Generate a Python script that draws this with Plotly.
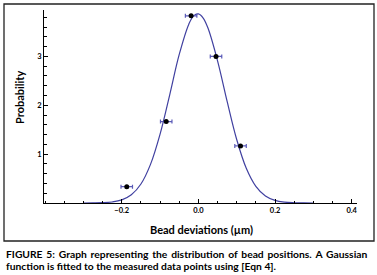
import plotly.graph_objects as go

# ---- data ----
bead_dev = [-0.187, -0.084, -0.019, 0.046, 0.110]
probability = [0.334, 1.666, 3.83, 3.00, 1.168]
dev_error = [0.015, 0.015, 0.015, 0.015, 0.015]

curve_x = [-0.300, -0.275, -0.250, -0.225, -0.200, -0.175, -0.150, -0.125, -0.100,
           -0.075, -0.050, -0.025, -0.0125, 0.000, 0.0125, 0.025, 0.050, 0.075,
           0.100, 0.125, 0.150, 0.175, 0.200, 0.225, 0.250, 0.275, 0.300]
curve_y = [0.0003, 0.0015, 0.006, 0.021, 0.063, 0.167, 0.388, 0.79, 1.41,
           2.21, 3.04, 3.66, 3.83, 3.87, 3.785, 3.58, 2.91, 2.08,
           1.30, 0.711, 0.342, 0.144, 0.053, 0.017, 0.005, 0.001, 0.0003]

x_tickvals = [-0.2, 0.0, 0.2, 0.4]
y_tickvals = [1, 2, 3]

x_title = "Bead deviations (µm)"
y_title = "Probability"
caption_1_words = ["FIGURE", "5:", "Graph", "representing", "the", "distribution", "of",
                   "bead", "positions.", "A", "Gaussian"]
caption_2 = "function is fitted to the measured data points using [Eqn 4]."

# ---- layout geometry (pixels) ----
W, H = 377, 275
L, R, T, B = 44, 357, 10, 203  # plot area edges in px


def px_x(p):
    return (p - L) / (R - L)


def px_y(p):
    return (B - p) / (B - T)


FONT = "Lato"
curve_color = "#4040a0"
err_color = "#5b5bb8"
CAP_SIZE = 10.3

# justified first caption line: widen word gaps slightly
caption_1 = "\u00a0\u2009".join(caption_1_words)

fig = go.Figure()
fig.add_trace(go.Scatter(
    x=curve_x, y=curve_y, mode="lines",
    line=dict(color=curve_color, width=1.2, shape="spline", smoothing=1.0),
    hoverinfo="skip", showlegend=False,
))
fig.add_trace(go.Scatter(
    x=bead_dev, y=probability, mode="markers",
    marker=dict(color="black", size=5),
    error_x=dict(type="data", array=dev_error, color=err_color, thickness=1.2, width=2),
    showlegend=False,
))

fig.update_layout(
    width=W, height=H,
    margin=dict(l=L, r=W - R, t=T, b=H - B, pad=0),
    paper_bgcolor="white", plot_bgcolor="white",
    font=dict(family=FONT, color="black"),
    xaxis=dict(
        range=[-0.403, 0.414], showgrid=False, zeroline=False,
        showline=True, linecolor="black", linewidth=1,
        ticks="inside", ticklen=4, tickcolor="black", tickwidth=1,
        tickvals=x_tickvals, tickformat=".1f",
        tickfont=dict(size=7.5, family=FONT, weight="bold"),
        minor=dict(ticks="inside", dtick=0.05, tick0=0, ticklen=2.5, tickcolor="black"),
    ),
    yaxis=dict(
        range=[0, 3.95], showgrid=False, zeroline=False,
        showline=True, linecolor="black", linewidth=1,
        ticks="inside", ticklen=4, tickcolor="black", tickwidth=1,
        tickvals=y_tickvals,
        tickfont=dict(size=7.5, family=FONT, weight="bold"),
        minor=dict(ticks="inside", dtick=0.2, tick0=0, ticklen=2.5, tickcolor="black"),
    ),
    shapes=[dict(
        type="rect", xref="paper", yref="paper",
        x0=px_x(4), x1=px_x(374), y0=px_y(241), y1=px_y(4),
        line=dict(color="#222222", width=1.3), fillcolor="rgba(0,0,0,0)", layer="below",
    )],
    annotations=[
        dict(text=y_title, xref="paper", yref="paper", x=px_x(20), y=px_y(98),
             textangle=-90, showarrow=False, xanchor="center", yanchor="middle",
             font=dict(size=11, family=FONT, weight="bold")),
        dict(text=x_title, xref="paper", yref="paper", x=px_x(201), y=px_y(229),
             showarrow=False, xanchor="center", yanchor="middle",
             font=dict(size=11, family=FONT, weight="bold")),
        dict(text=caption_1, xref="paper", yref="paper", x=px_x(4), y=px_y(254),
             showarrow=False, xanchor="left", yanchor="middle",
             font=dict(size=CAP_SIZE, family=FONT, weight="bold")),
        dict(text=caption_2, xref="paper", yref="paper", x=px_x(4), y=px_y(265.5),
             showarrow=False, xanchor="left", yanchor="middle",
             font=dict(size=CAP_SIZE, family=FONT, weight="bold")),
    ],
)

fig.write_html("out.html",
               config={"displayModeBar": False},
               post_script="document.body.style.margin='0';document.body.style.padding='0';")
